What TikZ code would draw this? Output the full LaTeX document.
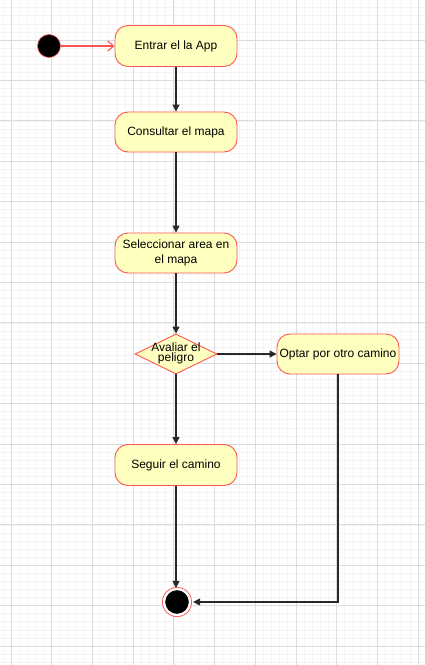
\documentclass[tikz,border=0pt]{standalone}
\usepackage{fontspec}
\setmainfont{Liberation Sans}
\usepackage{tikz}
\usetikzlibrary{arrows.meta,positioning,shapes.geometric}
\usepackage{xcolor}
\definecolor{actfill}{RGB}{255,255,192}
\definecolor{actline}{RGB}{250,85,85}
\definecolor{minorgrid}{RGB}{244,244,244}
\definecolor{majorgrid}{RGB}{220,220,220}
\definecolor{flowline}{RGB}{40,40,40}

\begin{document}
\begin{tikzpicture}[
    x=1pt, y=-1pt,
    activity/.style={draw=actline, fill=actfill, line width=0.9pt, rounded corners=13pt,
        minimum width=122pt, minimum height=40pt, align=center, inner sep=2pt,
        font=\fontsize{12}{15}\selectfont},
    decision/.style={draw=actline, fill=actfill, line width=0.9pt, diamond, inner sep=0pt,
        minimum width=82pt, minimum height=40pt},
    start/.style={circle, fill=black, draw=actline, line width=0.6pt, minimum size=23pt, inner sep=0pt},
    finish/.style={circle, fill=black, draw=white, line width=2.2pt, minimum size=26pt, inner sep=0pt,
        append after command={\pgfextra{\draw[actline, line width=0.9pt] (\tikzlastnode) circle (14.5pt);}}},
    arrow/.style={-{Triangle[length=7pt, width=7pt]}, draw=flowline, line width=1.1pt},
    startarrow/.style={-{Straight Barb[length=6pt, width=10pt]}, draw=actline, line width=1.1pt}
]
\useasboundingbox (0,0) rectangle (425,665);
% Background grid
\begin{scope}
\clip (0,0) rectangle (425,665);
\fill[white] (0,0) rectangle (425,665);
\foreach \i in {0,...,52} \draw[minorgrid, line width=0.6pt] ({2.86+8.14*\i},0) -- ++(0,665);
\foreach \j in {0,...,82} \draw[minorgrid, line width=0.6pt] (0,{7.68+8.08*\j}) -- ++(425,0);
\foreach \i in {0,...,10} \draw[majorgrid, line width=0.7pt] ({11+40.7*\i},0) -- ++(0,665);
\foreach \j in {0,...,16} \draw[majorgrid, line width=0.7pt] (0,{40+40.4*\j}) -- ++(425,0);
\end{scope}

% Initial state
\node[start] (init) at (49,46) {};

% Activities
\node[activity, minimum height=41pt] (entrar) at (176,46) {Entrar el la App};
\node[activity] (consultar) at (176,132) {Consultar el mapa};
\node[activity] (seleccionar) at (176,253) {Seleccionar area en\\el mapa};

% Decision
\node[decision, label={[font=\fontsize{12}{12.5}\selectfont, inner sep=0pt]center:{%
    \begin{tabular}{@{}c@{}}Avaliar el\\[-2pt]peligro\end{tabular}}}] (peligro) at (176,354) {};

\node[activity] (optar) at (338,354) {Optar por otro camino};
\node[activity, minimum height=41pt] (seguir) at (176,465) {Seguir el camino};

% Final state
\node[finish] (fin) at (177,602) {};

% Arrows
\draw[startarrow] (init) -- (entrar);
\draw[arrow] (entrar) -- (consultar);
\draw[arrow] (consultar) -- (seleccionar);
\draw[arrow] (seleccionar) -- (peligro);
\draw[arrow] (peligro) -- (optar);
\draw[arrow] (peligro) -- (seguir);
\draw[arrow] (seguir) -- (fin.north -| seguir.south);
\draw[arrow] (optar.south) |- ([xshift=2pt]fin.east);
\end{tikzpicture}
\end{document}
